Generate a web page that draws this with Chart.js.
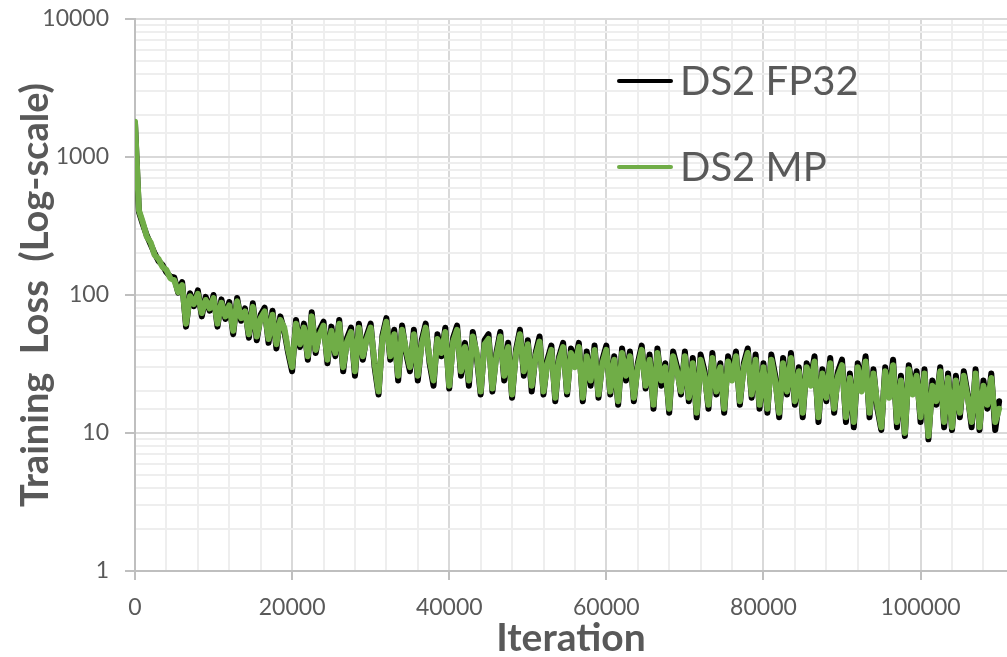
<!DOCTYPE html>
<html>
<head>
<meta charset="utf-8">
<script src="https://cdn.jsdelivr.net/npm/chart.js@4.4.1/dist/chart.umd.min.js"></script>
<style>
  html, body { margin: 0; padding: 0; background: #fff; }
  #wrap { width: 1007px; height: 657px; }
</style>
</head>
<body>
<div id="wrap"><canvas id="lossChart" width="1007" height="657"></canvas></div>
<script>
// iterations (x axis), sampled every 500
const iterations = [
  0, 500, 1000, 1500, 2000, 2500, 3000, 3500, 4000, 4500,
  5000, 5500, 6000, 6500, 7000, 7500, 8000, 8500, 9000, 9500,
  10000, 10500, 11000, 11500, 12000, 12500, 13000, 13500, 14000, 14500,
  15000, 15500, 16000, 16500, 17000, 17500, 18000, 18500, 19000, 19500,
  20000, 20500, 21000, 21500, 22000, 22500, 23000, 23500, 24000, 24500,
  25000, 25500, 26000, 26500, 27000, 27500, 28000, 28500, 29000, 29500,
  30000, 30500, 31000, 31500, 32000, 32500, 33000, 33500, 34000, 34500,
  35000, 35500, 36000, 36500, 37000, 37500, 38000, 38500, 39000, 39500,
  40000, 40500, 41000, 41500, 42000, 42500, 43000, 43500, 44000, 44500,
  45000, 45500, 46000, 46500, 47000, 47500, 48000, 48500, 49000, 49500,
  50000, 50500, 51000, 51500, 52000, 52500, 53000, 53500, 54000, 54500,
  55000, 55500, 56000, 56500, 57000, 57500, 58000, 58500, 59000, 59500,
  60000, 60500, 61000, 61500, 62000, 62500, 63000, 63500, 64000, 64500,
  65000, 65500, 66000, 66500, 67000, 67500, 68000, 68500, 69000, 69500,
  70000, 70500, 71000, 71500, 72000, 72500, 73000, 73500, 74000, 74500,
  75000, 75500, 76000, 76500, 77000, 77500, 78000, 78500, 79000, 79500,
  80000, 80500, 81000, 81500, 82000, 82500, 83000, 83500, 84000, 84500,
  85000, 85500, 86000, 86500, 87000, 87500, 88000, 88500, 89000, 89500,
  90000, 90500, 91000, 91500, 92000, 92500, 93000, 93500, 94000, 94500,
  95000, 95500, 96000, 96500, 97000, 97500, 98000, 98500, 99000, 99500,
  100000, 100500, 101000, 101500, 102000, 102500, 103000, 103500, 104000, 104500,
  105000, 105500, 106000, 106500, 107000, 107500, 108000, 108500, 109000, 109500,
  110000
];

const fp32Loss = [
  1750, 400, 325, 270, 232, 200, 176, 165, 146, 136,
  134, 104, 124, 59, 103, 83, 108, 70, 97, 77,
  100, 59, 93, 67, 89, 52, 95, 65, 80, 49,
  87, 47, 72, 81, 45, 77, 41, 70, 55, 38,
  28, 66, 42, 62, 34, 75, 38, 56, 64, 32,
  59, 36, 66, 28, 49, 58, 26, 62, 34, 51,
  62, 30, 19, 51, 68, 34, 56, 24, 60, 38,
  28, 56, 24, 47, 62, 32, 22, 52, 36, 58,
  21, 49, 60, 26, 45, 22, 54, 36, 19, 47,
  52, 20, 38, 54, 24, 45, 18, 40, 56, 26,
  47, 20, 38, 50, 19, 34, 43, 17, 36, 45,
  19, 41, 32, 45, 17, 39, 22, 43, 18, 34,
  43, 19, 36, 16, 41, 24, 39, 17, 32, 43,
  21, 37, 15, 41, 22, 32, 14, 39, 30, 19,
  39, 17, 35, 13, 37, 28, 15, 38, 19, 32,
  14, 36, 26, 39, 16, 32, 41, 18, 37, 15,
  32, 14, 37, 26, 13, 35, 19, 38, 16, 30,
  13, 32, 24, 36, 12, 29, 17, 35, 14, 28,
  34, 12, 27, 11, 32, 22, 36, 13, 29, 15,
  10.5, 30, 19, 34, 11, 26, 9.5, 31, 20, 28,
  12, 29, 9, 24, 16, 30, 11, 27, 10.5, 26,
  13, 28, 19, 11, 29, 10.5, 24, 15, 27, 10.5,
  17
];

const mpLoss = [
  1800, 410, 335, 265, 240, 195, 182, 160, 152, 132,
  128, 105, 118, 62, 98, 86, 102, 74, 92, 80,
  95, 62, 88, 70, 84, 55, 90, 68, 76, 52,
  82, 50, 68, 76, 48, 72, 44, 66, 58, 40,
  30, 62, 44, 58, 36, 70, 40, 52, 60, 34,
  55, 38, 62, 30, 46, 54, 28, 58, 36, 48,
  58, 32, 20, 48, 64, 36, 52, 26, 56, 40,
  30, 52, 26, 44, 58, 34, 24, 48, 38, 54,
  22, 46, 56, 28, 42, 24, 50, 38, 20, 44,
  48, 21, 36, 50, 26, 42, 19, 38, 52, 28,
  44, 22, 36, 46, 20, 32, 40, 18, 34, 42,
  20, 38, 30, 42, 18, 36, 24, 40, 19, 32,
  40, 20, 34, 17, 38, 26, 36, 18, 30, 40,
  22, 34, 16, 38, 24, 30, 15, 36, 28, 20,
  36, 18, 32, 14, 34, 26, 16, 35, 20, 30,
  15, 33, 24, 36, 17, 30, 38, 19, 34, 16,
  30, 15, 34, 24, 14, 32, 20, 35, 17, 28,
  14, 30, 22, 33, 13, 27, 18, 32, 15, 26,
  31, 13, 25, 12, 30, 20, 33, 14, 27, 16,
  11, 28, 18, 31, 12, 24, 10, 29, 19, 26,
  13, 27, 9.5, 22, 17, 28, 12, 25, 11, 24,
  14, 26, 18, 12, 27, 11, 22, 16, 25, 12,
  15
];

const seriesNames = ['DS2 FP32', 'DS2 MP'];
const yTickLabels = [1, 10, 100, 1000, 10000];
const xTickLabels = [0, 20000, 40000, 60000, 80000, 100000];

const TEXT = '#595959';
const FONT = 'Lato, "Open Sans", sans-serif';

function isDecade(v) {
  const l = Math.log10(v);
  return Math.abs(l - Math.round(l)) < 1e-9;
}

// legend drawn inside the plot, like the original
const insideLegend = {
  id: 'insideLegend',
  afterDraw(chart) {
    const c = chart.ctx;
    const rows = [81, 167];
    chart.data.datasets.forEach((ds, i) => {
      const y = rows[i];
      c.save();
      c.strokeStyle = ds.borderColor;
      c.lineWidth = 4;
      c.lineCap = 'round';
      c.beginPath();
      c.moveTo(619, y);
      c.lineTo(671, y);
      c.stroke();
      c.fillStyle = TEXT;
      c.font = '40px ' + FONT;
      c.textBaseline = 'middle';
      c.textAlign = 'left';
      c.fillText(ds.label, 680, y + 1);
      c.restore();
    });
  }
};

const toPoints = arr => arr.map((v, i) => ({ x: iterations[i], y: v }));

new Chart(document.getElementById('lossChart'), {
  type: 'line',
  data: {
    datasets: [
      {
        label: seriesNames[0],
        data: toPoints(fp32Loss),
        borderColor: '#000000',
        borderWidth: 6,
        borderJoinStyle: 'round',
        borderCapStyle: 'round',
        pointRadius: 0,
        tension: 0,
        order: 1
      },
      {
        label: seriesNames[1],
        data: toPoints(mpLoss),
        borderColor: '#70AD47',
        borderWidth: 6,
        borderJoinStyle: 'round',
        borderCapStyle: 'round',
        pointRadius: 0,
        tension: 0,
        order: 0
      }
    ]
  },
  options: {
    responsive: false,
    animation: false,
    layout: { padding: { top: 19, right: 0, left: 0, bottom: 0 } },
    plugins: {
      legend: { display: false },
      tooltip: { enabled: false }
    },
    scales: {
      x: {
        type: 'linear',
        min: 0,
        max: 111000,
        afterFit(scale) {
          scale.height = 86;
          scale.paddingLeft = 0;
          scale.paddingRight = 0;
        },
        afterBuildTicks(scale) {
          const t = [];
          for (let v = 0; v <= 108000; v += 4000) t.push({ value: v });
          scale.ticks = t;
        },
        border: { color: '#bfbfbf', width: 2 },
        grid: {
          lineWidth: 2,
          color(ctx) {
            const v = ctx.tick.value;
            return v % 20000 === 0 ? '#d9d9d9' : '#eeeeee';
          },
          tickLength: 9,
          tickWidth: 2,
          tickColor(ctx) {
            return xTickLabels.includes(ctx.tick.value) ? '#bfbfbf' : 'rgba(0,0,0,0)';
          }
        },
        ticks: {
          autoSkip: false,
          maxRotation: 0,
          padding: 14,
          color: TEXT,
          font: { family: FONT, size: 23 },
          callback(v) { return xTickLabels.includes(v) ? String(v) : ''; }
        },
        title: {
          display: true,
          text: 'Iteration',
          color: TEXT,
          font: { family: FONT, size: 39, weight: 'bold' },
          padding: { top: 0, bottom: -5 }
        }
      },
      y: {
        type: 'logarithmic',
        min: 1,
        max: 10000,
        afterFit(scale) {
          scale.width = 135;
          scale.paddingTop = 0;
          scale.paddingBottom = 0;
        },
        border: { color: '#bfbfbf', width: 2 },
        grid: {
          lineWidth: 2,
          color(ctx) { return isDecade(ctx.tick.value) ? '#d9d9d9' : '#eeeeee'; },
          tickLength: 10,
          tickWidth: 2,
          tickColor(ctx) { return isDecade(ctx.tick.value) ? '#bfbfbf' : 'rgba(0,0,0,0)'; }
        },
        ticks: {
          autoSkip: false,
          padding: 16,
          color: TEXT,
          font: { family: FONT, size: 23 },
          callback(v) { return yTickLabels.includes(v) ? String(v) : ''; }
        },
        title: {
          display: true,
          text: 'Training  Loss  (Log-scale)',
          color: TEXT,
          font: { family: FONT, size: 38, weight: 'bold' },
          padding: { top: 13, bottom: 0 }
        }
      }
    }
  },
  plugins: [insideLegend]
});
</script>
</body>
</html>
